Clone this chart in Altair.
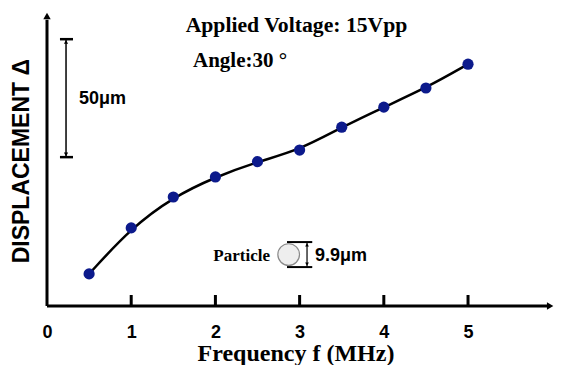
import altair as alt
import pandas as pd

# ---- data ----
freq = [0.5, 1.0, 1.5, 2.0, 2.5, 3.0, 3.5, 4.0, 4.5, 5.0]
disp = [13.6, 33.1, 46.2, 54.7, 61.2, 66.1, 75.8, 84.3, 92.4, 102.5]
tick_values = [1, 2, 3, 4, 5]
label_values = [0, 1, 2, 3, 4, 5]

X_MAX = 6.021
Y_MAX = 124.2
SERIF = "Liberation Serif"
SANS = "Liberation Sans"

xs = alt.Scale(domain=[0, X_MAX], nice=False, zero=False)
ys = alt.Scale(domain=[0, Y_MAX], nice=False, zero=False)

x_axis = alt.Axis(values=label_values, title="")


def X(field="x"):
    return alt.X(f"{field}:Q", scale=xs, axis=x_axis)


def Y(field="y"):
    return alt.Y(f"{field}:Q", scale=ys, axis=None)


df = pd.DataFrame({"x": freq, "y": disp})

# axis shafts
shafts = pd.DataFrame({"x": [0, 0], "x2": [5.95, 0], "y": [0, 0], "y2": [0, 121.3]})
shaft_layer = alt.Chart(shafts).mark_rule(color="black", strokeWidth=3).encode(
    x=X(), x2="x2:Q", y=Y(), y2="y2:Q")

heads = pd.DataFrame({"x": [5.975, 0], "y": [0, 122.9],
                      "shape": ["triangle-right", "triangle-up"]})
head_layer = alt.Chart(heads).mark_point(filled=True, color="black", size=55, opacity=1).encode(
    x=X(), y=Y(), shape=alt.Shape("shape:N", scale=None))

ticks = pd.DataFrame({"x": tick_values, "y": [0] * 5, "y2": [4.66] * 5})
tick_layer = alt.Chart(ticks).mark_rule(color="black", strokeWidth=3).encode(
    x=X(), y=Y(), y2="y2:Q")

curve = alt.Chart(df).mark_line(color="black", strokeWidth=2.5, interpolate="basis").encode(
    x=X(), y=Y())

points = alt.Chart(df).mark_point(filled=True, color="#0c1a8c", size=125, opacity=1).encode(
    x=X(), y=Y())

# 50 um scale bar
bar_v = pd.DataFrame({"x": [0.226], "y": [63.1], "y2": [113.1]})
bar_v_layer = alt.Chart(bar_v).mark_rule(color="black", strokeWidth=1.5).encode(
    x=X(), y=Y(), y2="y2:Q")
bar_caps = pd.DataFrame({"x": [0.154, 0.154], "x2": [0.309, 0.309], "y": [63.1, 113.1]})
bar_caps_layer = alt.Chart(bar_caps).mark_rule(color="black", strokeWidth=2.5).encode(
    x=X(), x2="x2:Q", y=Y())
bar_heads = pd.DataFrame({"x": [0.226, 0.226], "y": [111.9, 64.3],
                          "shape": ["triangle-up", "triangle-down"]})
bar_heads_layer = alt.Chart(bar_heads).mark_point(filled=True, color="black", size=18, opacity=1).encode(
    x=X(), y=Y(), shape=alt.Shape("shape:N", scale=None))

# particle sketch
particle = pd.DataFrame({"x": [2.87], "y": [21.8]})
particle_layer = alt.Chart(particle).mark_point(
    filled=True, fill="#eeeeee", stroke="#8a8a8a", strokeWidth=1.2, size=470, opacity=1).encode(
    x=X(), y=Y())
p_lines = pd.DataFrame({"x": [2.85, 2.85], "x2": [3.15, 3.15], "y": [16.5, 27.1]})
p_lines_layer = alt.Chart(p_lines).mark_rule(color="black", strokeWidth=2).encode(
    x=X(), x2="x2:Q", y=Y())
p_v = pd.DataFrame({"x": [3.088], "y": [16.5], "y2": [27.1]})
p_v_layer = alt.Chart(p_v).mark_rule(color="black", strokeWidth=1.2).encode(
    x=X(), y=Y(), y2="y2:Q")
p_heads = pd.DataFrame({"x": [3.088, 3.088], "y": [25.9, 17.7],
                        "shape": ["triangle-up", "triangle-down"]})
p_heads_layer = alt.Chart(p_heads).mark_point(filled=True, color="black", size=14, opacity=1).encode(
    x=X(), y=Y(), shape=alt.Shape("shape:N", scale=None))


def txt(text, x, y, font, size, align="left", angle=0):
    d = pd.DataFrame({"x": [x], "y": [y], "t": [text]})
    kw = dict(font=font, fontSize=size, fontWeight="bold", color="black",
              align=align, baseline="alphabetic")
    if angle:
        kw["angle"] = angle
    return alt.Chart(d).mark_text(**kw).encode(x=X(), y=Y(), text="t:N")


texts = [
    txt("Applied Voltage: 15Vpp", 2.963, 116.1, SERIF, 21.7, align="center"),
    txt("Angle:30 °", 1.734, 101.3, SERIF, 21),
    txt("50μm", 0.38, 85.6, SANS, 18),
    txt("Particle", 2.648, 19.1, SERIF, 17, align="right"),
    txt("9.9μm", 3.183, 18.9, SANS, 18),
    txt("DISPLACEMENT Δ", -0.214, 61.4, SANS, 23, align="center", angle=270),
    txt("Frequency f (MHz)", 2.957, -23.3, SERIF, 24, align="center"),
]

chart = alt.layer(
    shaft_layer, head_layer, tick_layer, curve,
    bar_v_layer, bar_caps_layer, bar_heads_layer,
    particle_layer, p_lines_layer, p_v_layer, p_heads_layer,
    *texts,
    points,
).properties(
    width=507, height=293,
    autosize=alt.AutoSizeParams(type="none"),
    padding={"left": 39, "top": 5, "right": 0, "bottom": 59},
    background="white",
).configure_view(stroke=None).configure_axisX(
    domain=False, ticks=False, tickSize=0, grid=False,
    labelFont=SANS, labelFontWeight="bold", labelFontSize=18, labelColor="black",
    labelBaseline="alphabetic", labelPadding=31, labelFlush=False,
)

chart.save("out.html", embed_options={"renderer": "svg", "actions": False})
